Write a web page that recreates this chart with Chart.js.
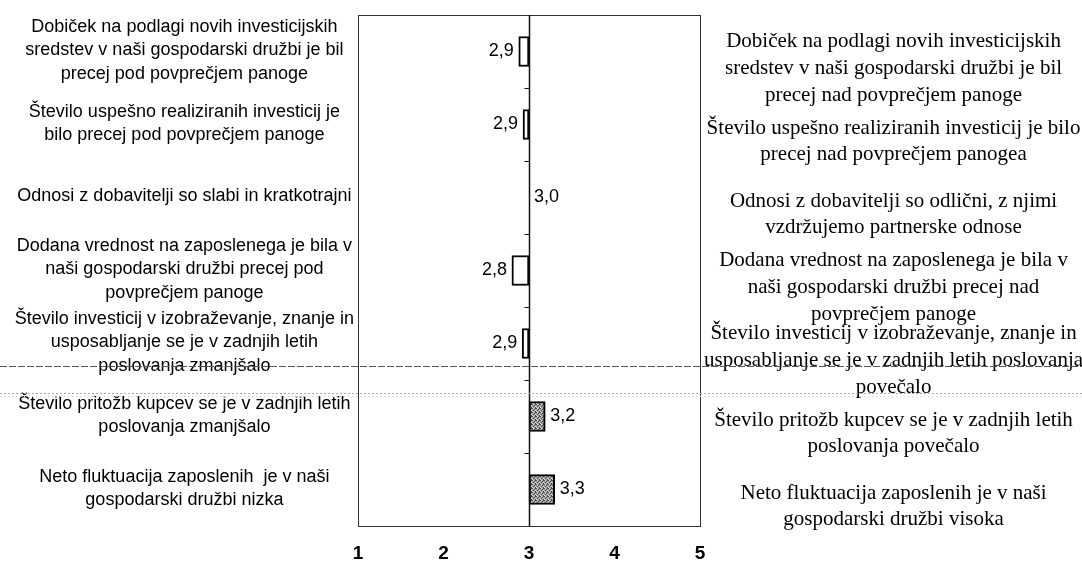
<!DOCTYPE html>
<html>
<head>
<meta charset="utf-8">
<script src="https://cdn.jsdelivr.net/npm/chart.js@4.4.0/dist/chart.umd.min.js"></script>
<style>
  body { margin: 0; background: #fff; }
  #wrap { width: 1082px; height: 562px; }
</style>
</head>
<body>
<div id="wrap"><canvas id="ocena" width="1082" height="562"></canvas></div>
<script>
// statements on the low end of the scale (left side)
const leftLabels = [
  ["Dobiček na podlagi novih investicijskih", "sredstev v naši gospodarski družbi je bil", "precej pod povprečjem panoge"],
  ["Število uspešno realiziranih investicij je", "bilo precej pod povprečjem panoge"],
  ["Odnosi z dobavitelji so slabi in kratkotrajni"],
  ["Dodana vrednost na zaposlenega je bila v", "naši gospodarski družbi precej pod", "povprečjem panoge"],
  ["Število investicij v izobraževanje, znanje in", "usposabljanje se je v zadnjih letih", "poslovanja zmanjšalo"],
  ["Število pritožb kupcev se je v zadnjih letih", "poslovanja zmanjšalo"],
  ["Neto fluktuacija zaposlenih  je v naši", "gospodarski družbi nizka"],
]

// statements on the high end of the scale (right side)
const rightLabels = [
  ["Dobiček na podlagi novih investicijskih", "sredstev v naši gospodarski družbi je bil", "precej nad povprečjem panoge"],
  ["Število uspešno realiziranih investicij je bilo", "precej nad povprečjem panogea"],
  ["Odnosi z dobavitelji so odlični, z njimi", "vzdržujemo partnerske odnose"],
  ["Dodana vrednost na zaposlenega je bila v", "naši gospodarski družbi precej nad", "povprečjem panoge"],
  ["Število investicij v izobraževanje, znanje in", "usposabljanje se je v zadnjih letih poslovanja", "povečalo"],
  ["Število pritožb kupcev se je v zadnjih letih", "poslovanja povečalo"],
  ["Neto fluktuacija zaposlenih je v naši", "gospodarski družbi visoka"],
]

// mean scores, 1..5 scale
const values = [2.88, 2.93, 3.0, 2.80, 2.92, 3.19, 3.30]

const scaleMin = 1
const scaleMax = 5
const midpoint = 3

/**
 * Small grey stipple, looks like the scanned fill of the positive bars
 */
const makeStipple = (ctx) => {
  const c = document.createElement("canvas")
  c.width = 4
  c.height = 4
  const g = c.getContext("2d")
  g.fillStyle = "#a4a4a4"
  g.fillRect(0, 0, 4, 4)
  const dark = [[0, 0], [2, 1], [1, 2], [3, 3], [3, 0]]
  const light = [[1, 0], [3, 2], [0, 3]]
  g.fillStyle = "#4a4a4a"
  dark.forEach(([px, py]) => g.fillRect(px, py, 1, 1))
  g.fillStyle = "#d8d8d8"
  light.forEach(([px, py]) => g.fillRect(px, py, 1, 1))
  return ctx.createPattern(c, "repeat")
}

const line = (ctx, x1, y1, x2, y2) => {
  ctx.beginPath()
  ctx.moveTo(x1, y1)
  ctx.lineTo(x2, y2)
  ctx.stroke()
}

// labels may stick out past the plot; don't let chart.js shrink the area for them
const noLabelPadding = (s) => {
  s.paddingTop = 0
  s.paddingBottom = 0
}

// frame, midpoint line and the little category ticks on it
const framePlugin = {
  id: "frame",
  afterDatasetsDraw(chart) {
    const { ctx, chartArea: a, scales } = chart
    const x = scales.x
    const y = scales.y
    ctx.save()
    ctx.strokeStyle = "#333"
    ctx.lineWidth = 1
    ctx.strokeRect(a.left + 0.5, a.top + 0.5, a.right - a.left, a.bottom - a.top)

    const cx = Math.round(x.getPixelForValue(midpoint)) + 0.5
    ctx.strokeStyle = "#111"
    ctx.lineWidth = 1.5
    line(ctx, cx, a.top, cx, a.bottom)

    ctx.lineWidth = 1
    for (let i = 0; i < y.ticks.length - 1; i++) {
      const py = Math.round((y.getPixelForTick(i) + y.getPixelForTick(i + 1)) / 2) + 0.5
      line(ctx, cx - 5, py, cx, py)
    }
    ctx.restore()
  },
}

// value labels next to the bar ends, decimal comma
const valuePlugin = {
  id: "values",
  afterDatasetsDraw(chart) {
    const { ctx } = chart
    const meta = chart.getDatasetMeta(0)
    ctx.save()
    ctx.font = "18px 'Liberation Sans', Arial, sans-serif"
    ctx.fillStyle = "#000"
    ctx.textBaseline = "middle"
    meta.data.forEach((bar, i) => {
      const v = values[i]
      const txt = v.toFixed(1).replace(".", ",")
      if (v < midpoint) {
        ctx.textAlign = "right"
        ctx.fillText(txt, bar.x - 5, bar.y)
      } else {
        ctx.textAlign = "left"
        ctx.fillText(txt, bar.x + 5, bar.y)
      }
    })
    ctx.restore()
  },
}

// the two seams left over from the scanner
const scanPlugin = {
  id: "scan",
  afterDraw(chart) {
    const { ctx, width } = chart
    ctx.save()
    ctx.lineWidth = 1
    ctx.strokeStyle = "#555"
    ctx.setLineDash([7, 2])
    line(ctx, 0, 366.5, width, 366.5)
    ctx.strokeStyle = "#aaa"
    ctx.setLineDash([2, 2])
    line(ctx, 0, 393.5, width, 393.5)
    ctx.strokeStyle = "#ccc"
    ctx.setLineDash([1, 3])
    line(ctx, 0, 396.5, width, 396.5)
    ctx.restore()
  },
}

const canvas = document.getElementById("ocena")
const ctx = canvas.getContext("2d")
const stipple = makeStipple(ctx)

new Chart(ctx, {
  type: "bar",
  data: {
    labels: leftLabels,
    datasets: [
      {
        data: values,
        base: midpoint,
        yAxisID: "y",
        backgroundColor: values.map((v) => (v < midpoint ? "#fff" : stipple)),
        borderColor: "#000",
        borderWidth: 2,
        borderSkipped: false,
        barThickness: 30,
      },
    ],
  },
  options: {
    indexAxis: "y",
    responsive: false,
    animation: false,
    devicePixelRatio: 1,
    layout: { padding: { top: 15, left: 0, right: 0, bottom: 0 } },
    scales: {
      x: {
        min: scaleMin,
        max: scaleMax,
        grid: { display: false, drawTicks: false },
        border: { display: false },
        ticks: {
          stepSize: 1,
          padding: 16,
          color: "#000",
          font: { family: "'Liberation Sans', Arial, sans-serif", size: 19, weight: "bold" },
        },
        afterFit: (s) => {
          s.height = 36
          s.paddingLeft = 0
          s.paddingRight = 0
        },
      },
      y: {
        position: "left",
        offset: true,
        grid: { display: false, drawTicks: false },
        border: { display: false },
        ticks: {
          autoSkip: false,
          crossAlign: "center",
          padding: 4,
          labelOffset: -1,
          color: "#000",
          font: { family: "'Liberation Sans', Arial, sans-serif", size: 18, lineHeight: 1.3 },
        },
        afterFit: (s) => {
          s.width = 358
          noLabelPadding(s)
        },
      },
      y2: {
        type: "category",
        position: "right",
        labels: rightLabels,
        offset: true,
        grid: { display: false, drawTicks: false },
        border: { display: false },
        ticks: {
          autoSkip: false,
          crossAlign: "center",
          padding: 4,
          labelOffset: 17,
          color: "#000",
          font: { family: "'Liberation Serif', 'Times New Roman', serif", size: 21, lineHeight: 1.27 },
        },
        afterFit: (s) => {
          s.width = 382
          noLabelPadding(s)
        },
      },
    },
    plugins: {
      legend: { display: false },
      tooltip: { enabled: false },
    },
  },
  plugins: [framePlugin, valuePlugin, scanPlugin],
})
</script>
</body>
</html>
